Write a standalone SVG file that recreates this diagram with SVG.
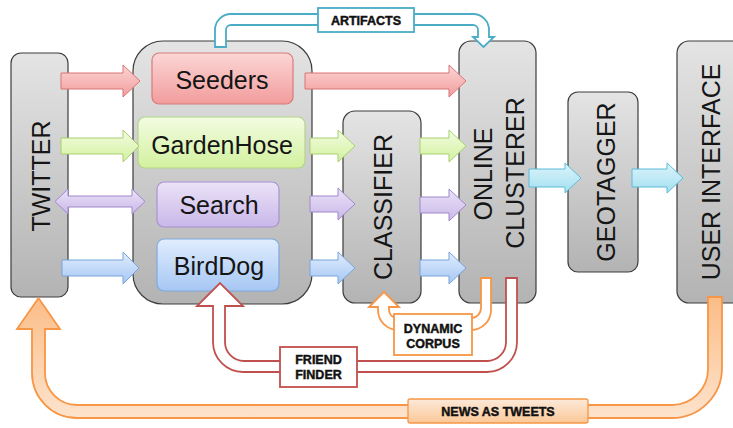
<svg xmlns="http://www.w3.org/2000/svg" width="733" height="428" viewBox="0 0 733 428">
<defs>
<linearGradient id="gGray" x1="0" y1="0" x2="0" y2="1"><stop offset="0" stop-color="#e4e4e4"/><stop offset="1" stop-color="#b3b3b3"/></linearGradient>
<linearGradient id="gRed" x1="0" y1="0" x2="0" y2="1"><stop offset="0" stop-color="#fcd6d6"/><stop offset="1" stop-color="#f29c9c"/></linearGradient>
<linearGradient id="gGreen" x1="0" y1="0" x2="0" y2="1"><stop offset="0" stop-color="#f3fce2"/><stop offset="1" stop-color="#d2f19e"/></linearGradient>
<linearGradient id="gPurple" x1="0" y1="0" x2="0" y2="1"><stop offset="0" stop-color="#ebe3f7"/><stop offset="1" stop-color="#c9b7e9"/></linearGradient>
<linearGradient id="gBlue" x1="0" y1="0" x2="0" y2="1"><stop offset="0" stop-color="#e0edfd"/><stop offset="1" stop-color="#a6c7f4"/></linearGradient>
<linearGradient id="gCyan" x1="0" y1="0" x2="0" y2="1"><stop offset="0" stop-color="#dcf4fb"/><stop offset="1" stop-color="#a3dff0"/></linearGradient>
<linearGradient id="gPeach" gradientUnits="userSpaceOnUse" x1="0" y1="298" x2="0" y2="420"><stop offset="0" stop-color="#fbbd87"/><stop offset="1" stop-color="#fde4ce"/></linearGradient>
<linearGradient id="gPeachBox" x1="0" y1="0" x2="0" y2="1"><stop offset="0" stop-color="#fde9d9"/><stop offset="1" stop-color="#fbc898"/></linearGradient>
</defs>
<style>
.box{fill:url(#gGray);stroke:#3c3c3c;stroke-width:1.2}
.big{font-family:"Liberation Sans",Arial,sans-serif;font-size:25px;fill:#151515;text-anchor:middle}
.lbl{font-family:"Liberation Sans",Arial,sans-serif;font-size:12.5px;font-weight:bold;fill:#111;stroke:#111;stroke-width:0.45;text-anchor:middle}
.aRed{fill:url(#gRed);stroke:#d97575;stroke-width:1}
.aGreen{fill:url(#gGreen);stroke:#a9d06e;stroke-width:1}
.aPurple{fill:url(#gPurple);stroke:#9f88cc;stroke-width:1}
.aBlue{fill:url(#gBlue);stroke:#79a3dc;stroke-width:1}
.aCyan{fill:url(#gCyan);stroke:#5cbcd8;stroke-width:1}
.tube{stroke-width:1.8;stroke-linejoin:miter}
</style>
<rect width="733" height="428" fill="#ffffff"/>

<g id="twitter"><rect class="box" x="11" y="53" width="57" height="244" rx="10"/><text class="big" transform="translate(50,176) rotate(-90)">TWITTER</text></g>
<g id="sources"><rect class="box" x="133" y="41" width="179" height="263" rx="30"/></g>
<g id="classifier"><rect class="box" x="343" y="111" width="78" height="192" rx="12"/><text class="big" transform="translate(392,207) rotate(-90)">CLASSIFIER</text></g>
<g id="clusterer"><rect class="box" x="459" y="41" width="77" height="262" rx="12"/><text class="big" transform="translate(492,174) rotate(-90)">ONLINE</text><text class="big" transform="translate(524,173) rotate(-90)">CLUSTERER</text></g>
<g id="geotagger"><rect class="box" x="568" y="92" width="70" height="180" rx="10"/><text class="big" transform="translate(615,182) rotate(-90)">GEOTAGGER</text></g>
<g id="ui"><rect class="box" x="677" y="41" width="75" height="262" rx="12"/><text class="big" transform="translate(720,172) rotate(-90)">USER INTERFACE</text></g>

<g id="seeders"><rect x="152" y="53" width="141" height="51" rx="7" fill="url(#gRed)" stroke="#d97a7a" stroke-width="1.2"/><text class="big" x="222" y="89">Seeders</text></g>
<g id="gardenhose"><rect x="138" y="117" width="167" height="51" rx="7" fill="url(#gGreen)" stroke="#b3d587" stroke-width="1.2"/><text class="big" x="222" y="154">GardenHose</text></g>
<g id="search"><rect x="157" y="182" width="122" height="45" rx="7" fill="url(#gPurple)" stroke="#aa92d2" stroke-width="1.2"/><text class="big" x="219" y="214">Search</text></g>
<g id="birddog"><rect x="157" y="239" width="122" height="52" rx="7" fill="url(#gBlue)" stroke="#80a8de" stroke-width="1.2"/><text class="big" x="219" y="275">BirdDog</text></g>

<g id="connectors">
<path class="aRed" d="M61,73 H123 V65 L140,81 L123,97 V89 H61 Z"/>
<path class="aGreen" d="M61,138 H123 V130 L139,146 L123,162 V154 H61 Z"/>
<path class="aPurple" d="M55,201.5 L68,189 V196 H132 V189 L145,201.5 L132,214 V207 H68 V214 Z"/>
<path class="aBlue" d="M62,260 H123 V252 L139,268 L123,284 V276 H62 Z"/>
<path class="aRed" d="M305,73 H449 V65 L466,81 L449,97 V89 H305 Z"/>
<path class="aGreen" d="M310,138 H338 V130 L355,146 L338,162 V154 H310 Z"/>
<path class="aPurple" d="M310,196 H338 V188 L355,204 L338,220 V212 H310 Z"/>
<path class="aBlue" d="M310,260 H338 V252 L355,268 L338,284 V276 H310 Z"/>
<path class="aGreen" d="M420,138 H449 V130 L466,146 L449,162 V154 H420 Z"/>
<path class="aPurple" d="M420,197 H449 V189 L466,205 L449,221 V213 H420 Z"/>
<path class="aBlue" d="M420,260 H449 V252 L466,268 L449,284 V276 H420 Z"/>
<path class="aCyan" d="M529,169 H565 V163 L581,178 L565,193 V187 H529 Z"/>
<path class="aCyan" d="M632,169 H667 V163 L683,178 L667,193 V187 H632 Z"/>

<path class="tube" fill="#ffffff" stroke="#4bacc6" d="M215,47 V30 A16,16 0 0 1 231,14 H473 A16,16 0 0 1 489,30 V37 H494 L483.5,47 L473,37 H478 V30 A5,5 0 0 0 473,25 H231 A5,5 0 0 0 226,30 V47 Z"/>
<rect x="318" y="8" width="96" height="24" fill="#ffffff" stroke="#4bacc6" stroke-width="1.8"/>
<text class="lbl" x="366" y="25">ARTIFACTS</text>

<path class="tube" fill="#ffffff" stroke="#c0504d" d="M506,278 H517 V342 A30,30 0 0 1 487,372 H243 A30,30 0 0 1 213,342 V306 H197 L220,283 L243,306 H225 V342 A19,19 0 0 0 244,361 H487 A19,19 0 0 0 506,342 Z"/>
<rect x="280" y="347" width="77" height="40" fill="#ffffff" stroke="#c0504d" stroke-width="1.8"/>
<text class="lbl" x="318.5" y="364">FRIEND</text>
<text class="lbl" x="318.5" y="379">FINDER</text>

<path class="tube" fill="#ffffff" stroke="#f79646" d="M481,278 H491 V310 A20,20 0 0 1 471,330 H398 A20,20 0 0 1 378,310 V307 H369 L384,292 L399,307 H389 V310 A8,8 0 0 0 397,318 H471 A10,10 0 0 0 481,308 Z"/>
<rect x="394" y="314" width="78" height="41" fill="#ffffff" stroke="#f79646" stroke-width="1.8"/>
<text class="lbl" x="433" y="333">DYNAMIC</text>
<text class="lbl" x="433" y="348">CORPUS</text>

<path class="tube" fill="url(#gPeach)" stroke="#f79646" stroke-width="1.3" d="M708,297 H722 V368 A50,50 0 0 1 672,418 H77 A45,45 0 0 1 32,373 V329 H17 L38.5,298 L60,329 H45 V373 A32,32 0 0 0 77,405 H672 A36,36 0 0 0 708,369 Z"/>
<rect x="408" y="399" width="180" height="24" rx="2" fill="url(#gPeachBox)" stroke="#f79646" stroke-width="1.3"/>
<text class="lbl" x="498" y="416">NEWS AS TWEETS</text>
</g>
</svg>
